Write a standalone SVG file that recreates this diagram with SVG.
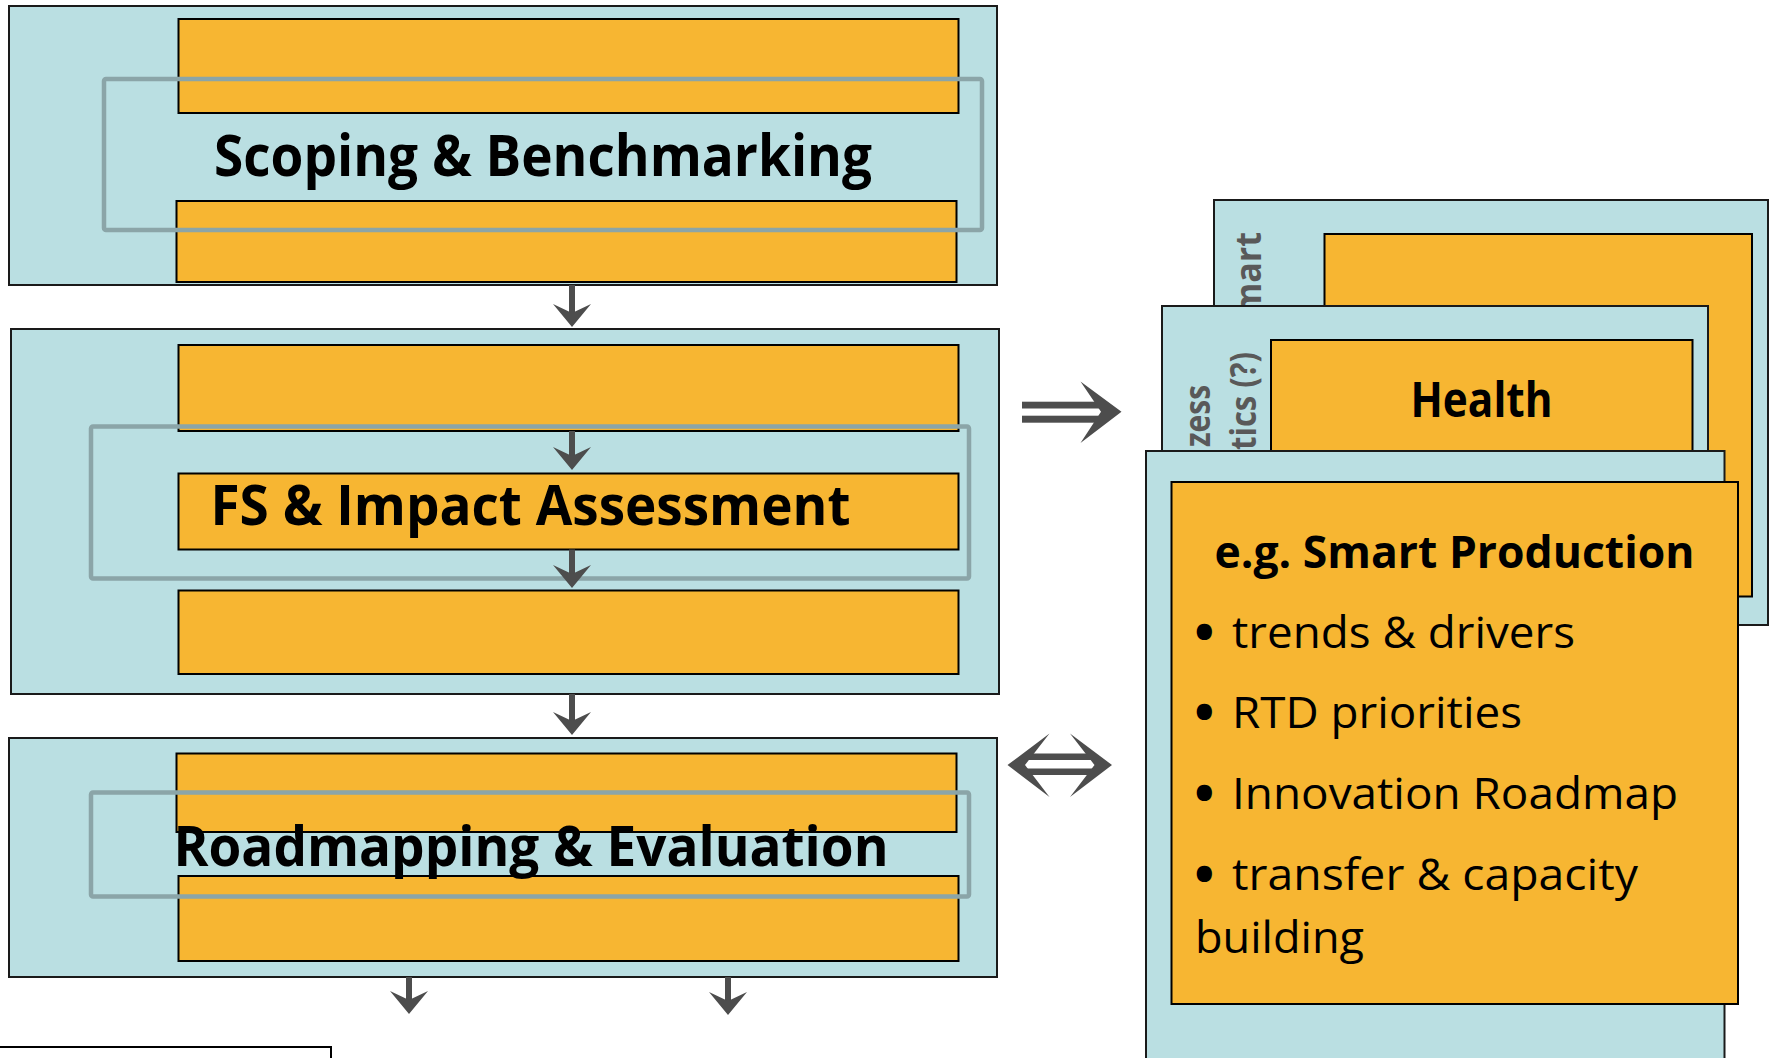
<svg xmlns="http://www.w3.org/2000/svg" width="1773" height="1058" viewBox="0 0 1773 1058">
  <style>
    .panel { fill: #BADFE2; stroke: #1a1a1a; stroke-width: 2; }
    .bar { fill: #F7B632; stroke: #000; stroke-width: 2; }
    .frame { fill: none; stroke: #8BA5A8; stroke-width: 4.5; stroke-linejoin: round; }
    .title { font-family: "Open Sans", "Noto Sans", sans-serif; font-weight: bold; fill: #000; }
    .body { font-family: "Open Sans", "Noto Sans", sans-serif; fill: #000; }
    .dot { stroke: #000; stroke-width: 6; stroke-linejoin: round; }
    .side { font-family: "Open Sans", "Noto Sans", sans-serif; font-weight: bold; fill: #595959; font-size: 36px; }
    .flow { stroke: #4D4D4D; stroke-width: 6; fill: none; }
    .bigarrow { fill: #4D4D4D; }
  </style>
  <defs>
    <marker id="head" markerUnits="userSpaceOnUse" orient="auto" refX="0" refY="0" markerWidth="40" markerHeight="44" viewBox="-12 -22 30 44" overflow="visible">
      <path d="M14,0 L-9,-19 L0,0 L-9,19 Z" fill="#4D4D4D"/>
    </marker>
  </defs>

  <!-- Stage 1 -->
  <g id="stage-scoping">
    <rect class="panel" x="9" y="6" width="988" height="279"/>
    <rect class="bar" x="178.5" y="19" width="780" height="94"/>
    <rect class="bar" x="176.5" y="201" width="780" height="81"/>
    <rect class="frame" x="104" y="79" width="878" height="151" rx="2"/>
    <text class="title" x="214" y="176" font-size="57" textLength="658" lengthAdjust="spacingAndGlyphs">Scoping &amp; Benchmarking</text>
  </g>

  <!-- Stage 2 -->
  <g id="stage-assessment">
    <rect class="panel" x="11" y="329" width="988" height="365"/>
    <rect class="bar" x="178.5" y="345" width="780" height="86"/>
    <rect class="bar" x="178.5" y="473.5" width="780" height="76"/>
    <rect class="bar" x="178.5" y="590.5" width="780" height="83.5"/>
    <rect class="frame" x="91" y="426.5" width="878" height="152" rx="2"/>
    <text class="title" x="210.5" y="524.5" font-size="55" textLength="640" lengthAdjust="spacingAndGlyphs">FS &amp; Impact Assessment</text>
  </g>

  <!-- Stage 3 -->
  <g id="stage-roadmapping">
    <rect class="panel" x="9" y="738" width="988" height="239"/>
    <rect class="bar" x="176.5" y="753.5" width="780" height="78.5"/>
    <rect class="bar" x="178.5" y="876" width="780" height="85"/>
    <rect class="frame" x="91" y="792.5" width="878" height="104" rx="2"/>
    <text class="title" x="173.5" y="866" font-size="55" textLength="715" lengthAdjust="spacingAndGlyphs">Roadmapping &amp; Evaluation</text>
  </g>

  <!-- Box at the lower left edge -->
  <g id="lower-box">
    <rect x="-4" y="1047" width="335" height="30" fill="#fff" stroke="#000" stroke-width="2"/>
  </g>

  <!-- Stack of domain cards, back to front -->
  <g id="card-back">
    <rect class="panel" x="1214" y="200" width="554" height="425"/>
    <rect class="bar" x="1324.5" y="234" width="427.5" height="362.5"/>
    <text class="side" transform="translate(1261,232) rotate(-90)" text-anchor="end" textLength="84" lengthAdjust="spacingAndGlyphs">mart</text>
  </g>

  <g id="card-health">
    <rect class="panel" x="1162" y="306" width="546" height="170"/>
    <rect class="bar" x="1271" y="340" width="421.5" height="130"/>
    <text class="side" transform="translate(1210,385) rotate(-90)" text-anchor="end" textLength="62" lengthAdjust="spacingAndGlyphs">zess</text>
    <text class="side" transform="translate(1256,352) rotate(-90)" text-anchor="end" textLength="98" lengthAdjust="spacingAndGlyphs">tics (?)</text>
    <text class="title" x="1410.5" y="417" font-size="48" textLength="142" lengthAdjust="spacingAndGlyphs">Health</text>
  </g>

  <g id="card-production">
    <rect class="panel" x="1146" y="451" width="578.5" height="620"/>
    <rect class="bar" x="1171.5" y="482" width="566.5" height="522"/>
    <text class="title" x="1214.5" y="568" font-size="45" textLength="480" lengthAdjust="spacingAndGlyphs">e.g. Smart Production</text>
    <text class="body" font-size="44" y="648"><tspan class="dot" x="1196">•</tspan><tspan x="1232" textLength="343" lengthAdjust="spacingAndGlyphs">trends &amp; drivers</tspan></text>
    <text class="body" font-size="44" y="728"><tspan class="dot" x="1196">•</tspan><tspan x="1232" textLength="290" lengthAdjust="spacingAndGlyphs">RTD priorities</tspan></text>
    <text class="body" font-size="44" y="808.5"><tspan class="dot" x="1196">•</tspan><tspan x="1232" textLength="446" lengthAdjust="spacingAndGlyphs">Innovation Roadmap</tspan></text>
    <text class="body" font-size="44" y="889.5"><tspan class="dot" x="1196">•</tspan><tspan x="1232" textLength="406" lengthAdjust="spacingAndGlyphs">transfer &amp; capacity</tspan></text>
    <text class="body" x="1195" y="952.5" font-size="44" textLength="169" lengthAdjust="spacingAndGlyphs">building</text>
  </g>

  <!-- Connectors -->
  <g id="connectors">
    <line class="flow" x1="572" y1="285" x2="572" y2="313" marker-end="url(#head)"/>
    <line class="flow" x1="572" y1="431" x2="572" y2="456" marker-end="url(#head)"/>
    <line class="flow" x1="572" y1="549.5" x2="572" y2="574" marker-end="url(#head)"/>
    <line class="flow" x1="572" y1="694" x2="572" y2="721" marker-end="url(#head)"/>
    <line class="flow" x1="409" y1="977" x2="409" y2="1000" marker-end="url(#head)"/>
    <line class="flow" x1="728" y1="977" x2="728" y2="1001" marker-end="url(#head)"/>

    <!-- implies-style arrow towards the cards -->
    <g id="arrow-to-cards" class="bigarrow">
      <rect x="1022" y="401.7" width="78" height="6.8"/>
      <rect x="1022" y="415.7" width="78" height="7"/>
      <path d="M1121.5,411.8 L1080.5,381.5 L1101,411.8 L1080.5,443 Z"/>
    </g>

    <!-- two-way arrow between roadmapping and the cards -->
    <g id="arrow-both-ways" class="bigarrow">
      <rect x="1024" y="753.5" width="71" height="6.5"/>
      <rect x="1024" y="768.5" width="71" height="6.5"/>
      <path d="M1007.5,765 L1049.5,733.5 L1025,765 L1049.5,797 Z"/>
      <path d="M1112,765 L1070,733.5 L1094.5,765 L1070,797 Z"/>
    </g>
  </g>
</svg>
